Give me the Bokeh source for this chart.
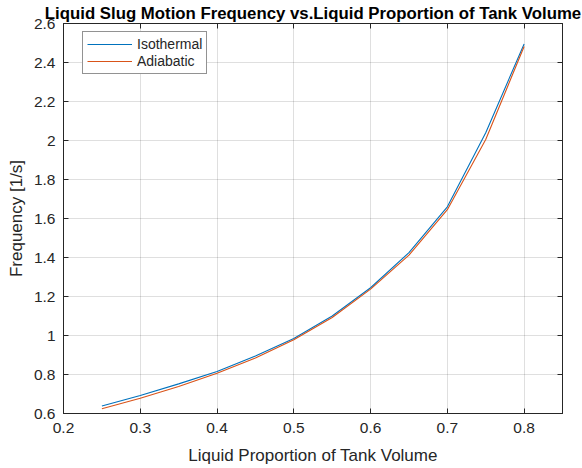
from bokeh.plotting import figure
from bokeh.models import Range1d, FixedTicker, LinearAxis, Legend, LegendItem
from bokeh.embed import file_html
from bokeh.resources import INLINE

# Liquid fill fraction of the tank and the resulting slug frequency
fill_fraction = [0.25, 0.30, 0.35, 0.40, 0.45, 0.50, 0.55, 0.60, 0.65, 0.70, 0.75, 0.80]
freq_isothermal = [0.638, 0.692, 0.752, 0.815, 0.895, 0.985, 1.100, 1.245, 1.425, 1.660, 2.040, 2.495]
freq_adiabatic = [0.624, 0.678, 0.738, 0.806, 0.885, 0.978, 1.092, 1.238, 1.412, 1.645, 2.005, 2.482]

x_ticks = [0.2, 0.3, 0.4, 0.5, 0.6, 0.7, 0.8]
x_tick_labels = ["0.2", "0.3", "0.4", "0.5", "0.6", "0.7", "0.8"]
y_ticks = [0.6, 0.8, 1.0, 1.2, 1.4, 1.6, 1.8, 2.0, 2.2, 2.4, 2.6]
y_tick_labels = ["0.6", "0.8", "1", "1.2", "1.4", "1.6", "1.8", "2", "2.2", "2.4", "2.6"]

FONT = "Liberation Sans"
INK = "#262626"
BLUE = "#0072BD"
ORANGE = "#D95319"

p = figure(
    width=582, height=468,
    x_range=Range1d(0.2, 0.85), y_range=Range1d(0.6, 2.6),
    output_backend="svg", toolbar_location=None,
    min_border_left=63, min_border_right=20, min_border_top=22, min_border_bottom=55,
    title="Liquid Slug Motion Frequency vs.Liquid Proportion of Tank Volume",
)
p.background_fill_color = "white"
p.border_fill_color = "white"
p.outline_line_color = INK
p.outline_line_width = 1

p.title.align = "center"
p.title.text_font = FONT
p.title.text_font_size = "16.8px"
p.title.text_font_style = "bold"
p.title.text_color = "black"
p.title.standoff = 2
p.title.offset = 0

def style_axis(ax, show_labels=True):
    ax.axis_line_color = INK
    ax.major_tick_in = 5
    ax.major_tick_out = 0
    ax.minor_tick_line_color = None
    ax.major_tick_line_color = INK
    ax.major_label_text_font = FONT
    ax.major_label_text_color = INK
    ax.axis_label_text_font = FONT
    ax.axis_label_text_color = INK
    ax.axis_label_text_font_style = "normal"
    if not show_labels:
        ax.major_label_text_color = None
        ax.major_label_text_font_size = "1px"
        ax.major_label_standoff = 0

p.xaxis.ticker = FixedTicker(ticks=x_ticks)
p.yaxis.ticker = FixedTicker(ticks=y_ticks)
p.xaxis.major_label_overrides = dict(zip(x_ticks, x_tick_labels))
p.yaxis.major_label_overrides = dict(zip(y_ticks, y_tick_labels))
style_axis(p.xaxis[0])
style_axis(p.yaxis[0])
p.xaxis.major_label_text_font_size = "15.5px"
p.yaxis.major_label_text_font_size = "15.5px"
p.xaxis.major_label_standoff = 9
p.yaxis.major_label_standoff = 8
p.xaxis.axis_label = "Liquid Proportion of Tank Volume"
p.yaxis.axis_label = "Frequency [1/s]"
p.xaxis.axis_label_text_font_size = "17px"
p.yaxis.axis_label_text_font_size = "17px"
p.xaxis.axis_label_standoff = 10
p.yaxis.axis_label_standoff = 5

# box ticks on the top and right edges
top_ax = LinearAxis(ticker=FixedTicker(ticks=x_ticks))
right_ax = LinearAxis(ticker=FixedTicker(ticks=y_ticks))
style_axis(top_ax, show_labels=False)
style_axis(right_ax, show_labels=False)
p.add_layout(top_ax, "above")
p.add_layout(right_ax, "right")

p.xgrid.ticker = FixedTicker(ticks=x_ticks)
p.ygrid.ticker = FixedTicker(ticks=y_ticks)
p.grid.grid_line_color = INK
p.grid.grid_line_alpha = 0.15
p.grid.grid_line_width = 1

r_iso = p.line(fill_fraction, freq_isothermal, line_color=BLUE, line_width=1.1)
r_adi = p.line(fill_fraction, freq_adiabatic, line_color=ORANGE, line_width=1.1)

legend = Legend(
    items=[LegendItem(label="Isothermal", renderers=[r_iso]),
           LegendItem(label="Adiabatic", renderers=[r_adi])],
    location=(19, 339),
    padding=4, spacing=1, margin=0,
    glyph_width=45, glyph_height=16, label_height=16, label_standoff=5,
    label_text_font=FONT, label_text_font_size="14px", label_text_color=INK,
    border_line_color=INK, border_line_width=1,
    background_fill_color="white", background_fill_alpha=1,
)
p.add_layout(legend, "center")

open("out.html", "w").write(file_html(p, INLINE))
